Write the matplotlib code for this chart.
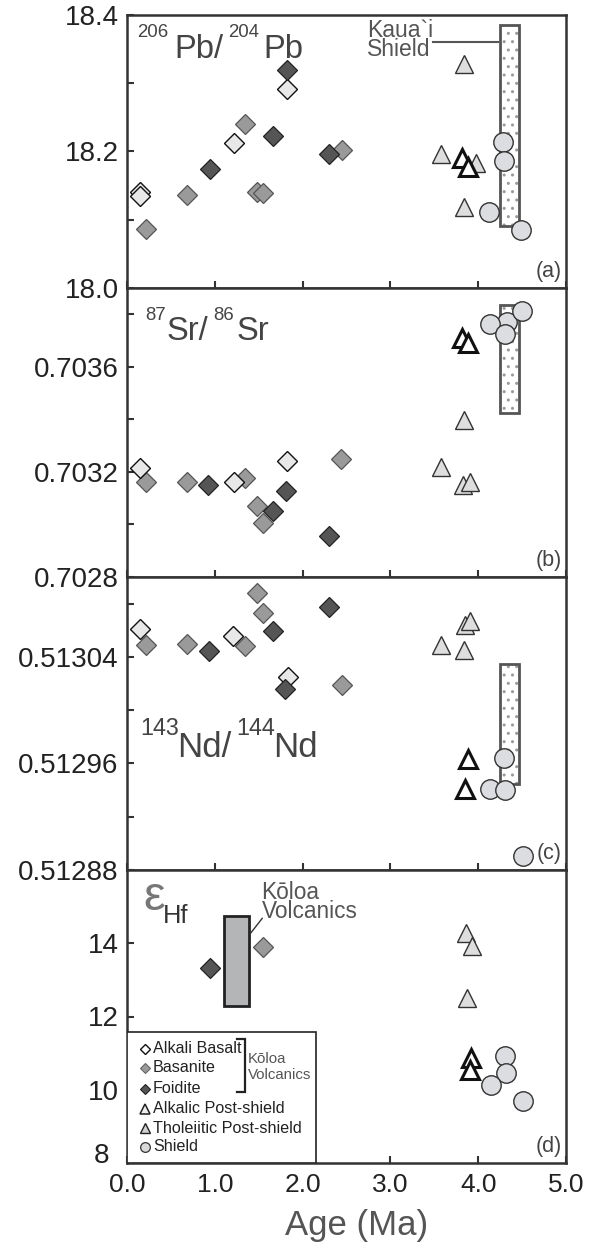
import matplotlib
matplotlib.use('Agg')
import matplotlib.pyplot as plt
from matplotlib.patches import Rectangle

plt.rcParams['font.family'] = ['Liberation Sans', 'DejaVu Sans']
plt.rcParams['hatch.linewidth'] = 1.0

W, H = 590, 1246

# ---------------- data ----------------
# (a) 206Pb/204Pb
ab_age_a = [0.148, 0.148, 1.219, 1.826]
ab_val_a = [18.141, 18.135, 18.212, 18.292]
bas_age_a = [0.216, 0.680, 1.344, 1.484, 1.545, 2.445]
bas_val_a = [18.087, 18.136, 18.241, 18.140, 18.139, 18.202]
foi_age_a = [0.945, 1.659, 1.826, 2.297]
foi_val_a = [18.175, 18.223, 18.320, 18.196]
aps_age_a = [3.572, 3.838, 3.975, 3.838]
aps_val_a = [18.197, 18.328, 18.183, 18.119]
tps_age_a = [3.812, 3.880]
tps_val_a = [18.190, 18.178]
sh_age_a = [4.286, 4.294, 4.127, 4.487]
sh_val_a = [18.214, 18.186, 18.112, 18.085]
kauai_a = [18.091, 18.385]

# (b) 87Sr/86Sr
ab_age_b = [0.148, 1.219, 1.826]
ab_val_b = [0.703213, 0.703162, 0.703242]
bas_age_b = [0.216, 0.680, 1.344, 1.484, 1.553, 2.434]
bas_val_b = [0.703162, 0.703162, 0.703175, 0.703070, 0.703006, 0.703249]
foi_age_b = [0.926, 1.659, 1.807, 2.297]
foi_val_b = [0.703150, 0.703050, 0.703126, 0.702957]
aps_age_b = [3.576, 3.838, 3.830, 3.907]
aps_val_b = [0.703219, 0.703398, 0.703150, 0.703162]
tps_age_b = [3.812, 3.880]
tps_val_b = [0.703708, 0.703689]
sh_age_b = [4.324, 4.134, 4.305, 4.495]
sh_val_b = [0.703769, 0.703762, 0.703724, 0.703813]
kauai_b = [0.703426, 0.703835]

# (c) 143Nd/144Nd
ab_age_c = [0.148, 1.211, 1.837]
ab_val_c = [0.5130610, 0.5130556, 0.5130249]
bas_age_c = [0.216, 0.680, 1.344, 1.484, 1.545, 2.445]
bas_val_c = [0.5130488, 0.5130496, 0.5130483, 0.5130878, 0.5130728, 0.5130186]
foi_age_c = [0.938, 1.659, 1.803, 2.297]
foi_val_c = [0.5130443, 0.5130594, 0.5130162, 0.5130777]
aps_age_c = [3.576, 3.838, 3.850, 3.907]
aps_val_c = [0.5130488, 0.5130450, 0.5130639, 0.5130669]
tps_age_c = [3.880, 3.850]
tps_val_c = [0.5129633, 0.5129407]
sh_age_c = [4.294, 4.130, 4.305, 4.507]
sh_val_c = [0.5129638, 0.5129407, 0.5129402, 0.5128904]
kauai_c = [0.5129444, 0.5130350]

# (d) eHf
ab_age_d, ab_val_d = [], []
bas_age_d = [1.553]
bas_val_d = [13.90]
foi_age_d = [0.945]
foi_val_d = [13.33]
aps_age_d = [3.861, 3.926, 3.876]
aps_val_d = [14.27, 13.93, 12.51]
tps_age_d = [3.918, 3.906]
tps_val_d = [10.87, 10.55]
sh_age_d = [4.305, 4.317, 4.146, 4.514]
sh_val_d = [10.91, 10.46, 10.14, 9.68]
koloa_range_d = [12.28, 14.75]
koloa_age_d = [1.105, 1.393]

kauai_age = [4.248, 4.470]

x_ticks = [0, 1, 2, 3, 4, 5]
x_ticklabels = ['0.0', '1.0', '2.0', '3.0', '4.0', '5.0']

# ---------------- styles ----------------
S_AB = dict(marker='D', ms=9.8, mfc='#e8e8e8', mec='#111111', mew=1.0, ls='none')
S_BAS = dict(marker='D', ms=9.8, mfc='#9a9a9a', mec='#555555', mew=0.9, ls='none')
S_FOI = dict(marker='D', ms=9.8, mfc='#555555', mec='#222222', mew=0.9, ls='none')
S_APS = dict(marker='^', ms=13.5, mfc='#dedede', mec='#333333', mew=1.0, ls='none')
S_TPS = dict(marker='^', ms=13.0, mfc='white', mec='#111111', mew=2.2, ls='none')
S_SH = dict(marker='o', ms=14, mfc='#dcdde0', mec='#333333', mew=1.0, ls='none')

fig = plt.figure(figsize=(W / 100, H / 100), dpi=100)

LEFT, RIGHT = 127, 566
panels_px = [(15, 288), (288, 577), (577, 870), (870, 1163)]

def make_ax(top, bot):
    return fig.add_axes([LEFT / W, 1 - bot / H, (RIGHT - LEFT) / W, (bot - top) / H])

axes = [make_ax(t, b) for t, b in panels_px]

datasets = [
    (ab_age_a, ab_val_a, bas_age_a, bas_val_a, foi_age_a, foi_val_a, aps_age_a, aps_val_a,
     tps_age_a, tps_val_a, sh_age_a, sh_val_a),
    (ab_age_b, ab_val_b, bas_age_b, bas_val_b, foi_age_b, foi_val_b, aps_age_b, aps_val_b,
     tps_age_b, tps_val_b, sh_age_b, sh_val_b),
    (ab_age_c, ab_val_c, bas_age_c, bas_val_c, foi_age_c, foi_val_c, aps_age_c, aps_val_c,
     tps_age_c, tps_val_c, sh_age_c, sh_val_c),
    (ab_age_d, ab_val_d, bas_age_d, bas_val_d, foi_age_d, foi_val_d, aps_age_d, aps_val_d,
     tps_age_d, tps_val_d, sh_age_d, sh_val_d),
]
kauai_ranges = [kauai_a, kauai_b, kauai_c, None]

ylims = [(18.0, 18.4), (0.7028, 0.7039), (0.51288, 0.51310), (8, 16)]
ymajor = [[18.0, 18.2, 18.4], [0.7028, 0.7032, 0.7036], [0.51288, 0.51296, 0.51304], [8, 10, 12, 14]]
yminor = [[18.1, 18.3], [0.7030, 0.7034, 0.7038], [0.51292, 0.51300, 0.51308], []]
ylabels = [['18.0', '18.2', '18.4'], ['0.7028', '0.7032', '0.7036'],
           ['0.51288', '0.51296', '0.51304'], ['', '10', '12', '14']]

for i, ax in enumerate(axes):
    (abx, aby, bx, by, fx, fy, ax_, ay, tx, ty, sx, sy) = datasets[i]
    kr = kauai_ranges[i]
    if kr is not None:
        ax.add_patch(Rectangle((kauai_age[0], kr[0]), kauai_age[1] - kauai_age[0], kr[1] - kr[0],
                               facecolor='white', edgecolor='#9a9a9a', hatch='..', lw=0, zorder=2))
        ax.add_patch(Rectangle((kauai_age[0], kr[0]), kauai_age[1] - kauai_age[0], kr[1] - kr[0],
                               facecolor='none', edgecolor='#555555', lw=2.0, zorder=2.5))
    ax.plot(bx, by, zorder=3, **S_BAS)
    ax.plot(abx, aby, zorder=3, **S_AB)
    ax.plot(fx, fy, zorder=3, **S_FOI)
    ax.plot(ax_, ay, zorder=3, **S_APS)
    ax.plot(tx, ty, zorder=3, **S_TPS)
    ax.plot(sx, sy, zorder=4, **S_SH)

    ax.set_xlim(0, 5)
    ax.set_ylim(*ylims[i])
    ax.set_xticks(x_ticks)
    ax.set_yticks(ymajor[i])
    ax.set_yticks(yminor[i], minor=True)
    ax.set_yticklabels(ylabels[i])
    if i == 3:
        ax.set_xticklabels(x_ticklabels)
    else:
        ax.set_xticklabels([])
    ax.tick_params(axis='both', which='both', direction='in', length=5, width=1.5,
                   colors='#333333', labelcolor='#222222', labelsize=20, pad=6)
    ax.tick_params(axis='x', labelsize=19, pad=7)
    for sp in ax.spines.values():
        sp.set_linewidth(1.8)
        sp.set_color('#333333')

# bottom-most y label "8" sits a bit higher/left in the reference
fig.text(109 / W, 1 - 1156 / H, '8', ha='right', va='center', fontsize=20, color='#222222')

# panel letters
for (t, b), lab in zip(panels_px, ['(a)', '(b)', '(c)', '(d)']):
    fig.text(562 / W, 1 - (b - 11) / H, lab, ha='right', va='baseline', fontsize=15.5, color='#444444')

def piece(x_px, base_py, s, size, col):
    fig.text(x_px / W, 1 - base_py / H, s, fontsize=size, color=col, ha='left', va='baseline')

C = '#444444'
piece(136.7, 36.7, '206', 13.4, C); piece(174, 58.3, 'Pb/', 23.5, C)
piece(228.3, 36.7, '204', 13.4, C); piece(263.3, 58.3, 'Pb', 23.5, C)

piece(145, 320, '87', 13.4, C); piece(166.7, 340, 'Sr/', 23.5, C)
piece(213.3, 320, '86', 13.4, C); piece(236.7, 340, 'Sr', 23.5, C)

piece(140, 735, '143', 16.8, C); piece(177.3, 756.7, 'Nd/', 25, C)
piece(236.7, 735, '144', 16.8, C); piece(273.3, 756.7, 'Nd', 25, C)

piece(143, 910, 'ε', 35, '#777777'); piece(163.3, 923.3, 'Hf', 18.4, '#333333')

# Kauai shield label (panel a)
axa = axes[0]
axa.text(2.73, 18.3397, 'Kaua`i\nShield', fontsize=16.5, color='#555555', va='baseline',
         ha='left', linespacing=0.78)
axa.plot([3.49, 4.22], [18.36, 18.36], color='#555555', lw=1.5, zorder=2)

# Koloa volcanics (panel d)
axd = axes[3]
axd.add_patch(Rectangle((koloa_age_d[0], koloa_range_d[0]), koloa_age_d[1] - koloa_age_d[0],
                        koloa_range_d[1] - koloa_range_d[0], facecolor='#b4b5b7',
                        edgecolor='#222222', lw=2.0, zorder=2))
axd.text(1.533, 14.70, 'Kōloa\nVolcanics', fontsize=16.3, color='#555555', va='baseline',
         ha='left', linespacing=0.78)
axd.plot([1.40, 1.54], [14.25, 14.68], color='#333333', lw=1.0, zorder=2)

# legend (drawn manually in axes fraction)
T = axd.transAxes
axd.add_patch(Rectangle((0, 0), 0.4305, 0.447, transform=T, facecolor='white',
                        edgecolor='#222222', lw=1.2, zorder=5))
leg_rows = [0.390, 0.325, 0.254, 0.185, 0.119, 0.056]
leg_names = ['Alkali Basalt', 'Basanite', 'Foidite', 'Alkalic Post-shield',
             'Tholeiitic Post-shield', 'Shield']
leg_styles = [
    dict(marker='D', ms=5.2, mfc='white', mec='#111111', mew=1.0),
    dict(marker='D', ms=5.2, mfc='#9a9a9a', mec='#666666', mew=0.8),
    dict(marker='D', ms=5.2, mfc='#555555', mec='#222222', mew=0.8),
    dict(marker='^', ms=7.5, mfc='#eeeeee', mec='#222222', mew=1.1),
    dict(marker='^', ms=7.5, mfc='#d0d0d0', mec='#222222', mew=1.0),
    dict(marker='o', ms=7.0, mfc='#d8d8d8', mec='#333333', mew=0.9),
]
for yy, nm, st in zip(leg_rows, leg_names, leg_styles):
    axd.plot([0.041], [yy], transform=T, ls='none', zorder=6, clip_on=False, **st)
    axd.text(0.059, yy, nm, transform=T, fontsize=11.6, color='#222222', va='center', ha='left', zorder=6)
# bracket
axd.plot([0.2506, 0.2688, 0.2688, 0.2506], [0.4222, 0.4222, 0.2413, 0.2413], transform=T,
         color='#222222', lw=1.6, zorder=6, solid_joinstyle='miter')
axd.text(0.2756, 0.3279, 'Kōloa\nVolcanics', transform=T, fontsize=10.8, color='#555555',
         va='center', ha='left', zorder=6, linespacing=1.2)

# x label
fig.text(356.5 / W, 1 - 1235 / H, 'Age (Ma)', ha='center', va='baseline', fontsize=25, color='#555555')

fig.savefig('out.png', dpi=100)
